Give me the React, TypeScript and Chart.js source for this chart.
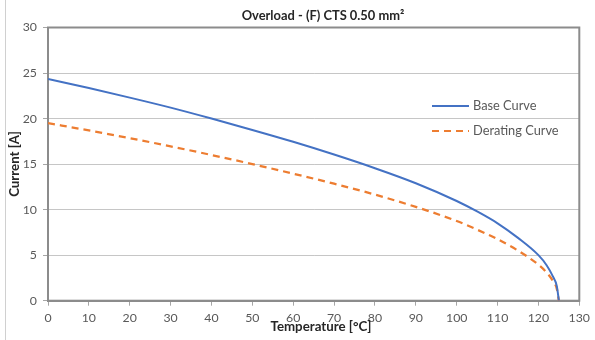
import React, { useEffect, useRef } from "react";
import { Chart, registerables } from "chart.js";

Chart.register(...registerables);

const chartTitle = "Overload - (F) CTS 0.50 mm²";
const xAxisTitle = "Temperature [°C]";
const yAxisTitle = "Current [A]";

const baseLabel = "Base Curve";
const baseTemps = [0, 10, 20, 30, 40, 50, 60, 70, 80, 90, 100, 105, 110, 115, 120, 122, 123.5, 124.5, 125];
const baseCurrent = [24.35, 23.35, 22.3, 21.2, 20.0, 18.75, 17.45, 16.05, 14.55, 12.9, 10.95, 9.8, 8.5, 6.9, 5.0, 3.9, 2.7, 1.6, 0];

const deratingLabel = "Derating Curve";
const deratingTemps = [0, 10, 20, 30, 40, 50, 60, 70, 80, 90, 100, 105, 110, 115, 120, 122, 123.5, 124.5, 125];
const deratingCurrent = [19.5, 18.7, 17.85, 16.95, 16.0, 15.0, 13.95, 12.85, 11.65, 10.3, 8.75, 7.8, 6.75, 5.5, 3.95, 3.1, 2.2, 1.3, 0];

const xTicksMin = 0;
const xTicksMax = 130;
const xTickStep = 10;
const yTicksMin = 0;
const yTicksMax = 30;
const yTickStep = 5;

const BLUE = "#4472C4";
const ORANGE = "#ED7D31";
const FONT = "Lato";

const decorPlugin = {
  id: "decor",
  beforeDatasetsDraw(chart: any) {
    const { ctx, chartArea: a } = chart;
    ctx.save();
    ctx.strokeStyle = "#8c8c8c";
    ctx.lineWidth = 2;
    ctx.strokeRect(a.left, a.top, a.right - a.left, a.bottom - a.top);
    ctx.restore();
  },
  afterDraw(chart: any) {
    const { ctx } = chart;
    ctx.save();
    ctx.fillStyle = "#262626";
    ctx.textAlign = "center";
    ctx.textBaseline = "middle";
    ctx.font = `bold 12.9px ${FONT}`;
    ctx.fillText(chartTitle, 323, 16);
    ctx.font = `bold 13.3px ${FONT}`;
    ctx.fillText(xAxisTitle, 321, 327);
    ctx.save();
    ctx.translate(15, 164);
    ctx.rotate(-Math.PI / 2);
    ctx.fillText(yAxisTitle, 0, 0);
    ctx.restore();

    // legend
    const items = [
      { label: baseLabel, color: BLUE, dash: [] as number[], y: 106 },
      { label: deratingLabel, color: ORANGE, dash: [7, 5], y: 131 },
    ];
    ctx.font = `12.8px ${FONT}`;
    ctx.textAlign = "left";
    ctx.fillStyle = "#595959";
    for (const it of items) {
      ctx.save();
      ctx.strokeStyle = it.color;
      ctx.lineWidth = 2;
      ctx.setLineDash(it.dash);
      ctx.beginPath();
      ctx.moveTo(432, it.y);
      ctx.lineTo(469, it.y);
      ctx.stroke();
      ctx.restore();
      ctx.fillText(it.label, 473, it.y);
    }
    ctx.restore();
  },
};

export default function App() {
  const canvasRef = useRef<HTMLCanvasElement | null>(null);

  useEffect(() => {
    document.body.style.margin = "0";
    const canvas = canvasRef.current;
    if (!canvas) return;
    const chart = new Chart(canvas, {
      type: "line",
      data: {
        datasets: [
          {
            label: baseLabel,
            data: baseTemps.map((t, i) => ({ x: t, y: baseCurrent[i] })),
            borderColor: BLUE,
            backgroundColor: BLUE,
            borderWidth: 2,
            pointRadius: 0,
            cubicInterpolationMode: "monotone",
            fill: false,
          },
          {
            label: deratingLabel,
            data: deratingTemps.map((t, i) => ({ x: t, y: deratingCurrent[i] })),
            borderColor: ORANGE,
            backgroundColor: ORANGE,
            borderWidth: 2.25,
            borderDash: [7, 5],
            pointRadius: 0,
            cubicInterpolationMode: "monotone",
            fill: false,
          },
        ],
      },
      options: {
        animation: false,
        responsive: false,
        maintainAspectRatio: false,
        layout: { padding: { top: 27.5, right: 11.4, left: 0, bottom: 0 } },
        plugins: {
          legend: { display: false },
          title: { display: false },
          tooltip: { enabled: false },
        },
        scales: {
          x: {
            type: "linear",
            min: xTicksMin,
            max: xTicksMax,
            afterFit: (s: any) => {
              s.height = 39.3;
            },
            ticks: {
              stepSize: xTickStep,
              color: "#595959",
              font: { family: FONT, size: 12.3 },
              padding: 5,
              maxRotation: 0,
            },
            grid: {
              display: true,
              drawOnChartArea: false,
              drawTicks: true,
              tickLength: 5,
              tickColor: "#a6a6a6",
            },
            border: { display: true, color: "#8c8c8c", width: 2 },
          },
          y: {
            type: "linear",
            min: yTicksMin,
            max: yTicksMax,
            afterFit: (s: any) => {
              s.width = 48;
            },
            ticks: {
              stepSize: yTickStep,
              color: "#595959",
              font: { family: FONT, size: 12.3 },
              padding: 6,
            },
            grid: {
              color: "#c6c6c6",
              lineWidth: 1,
              drawTicks: true,
              tickLength: 5,
              tickColor: "#a6a6a6",
            },
            border: { display: true, color: "#a6a6a6", width: 2 },
          },
        },
      },
      plugins: [decorPlugin],
    });
    return () => chart.destroy();
  }, []);

  return (
    <div style={{ position: "relative", width: 595, height: 340, background: "#fff" }}>
      <div style={{ position: "absolute", left: 5, top: 0, width: 1, height: 340, background: "#d0d0d0" }} />
      <canvas ref={canvasRef} width={595} height={340} style={{ display: "block", width: 595, height: 340 }} />
    </div>
  );
}
